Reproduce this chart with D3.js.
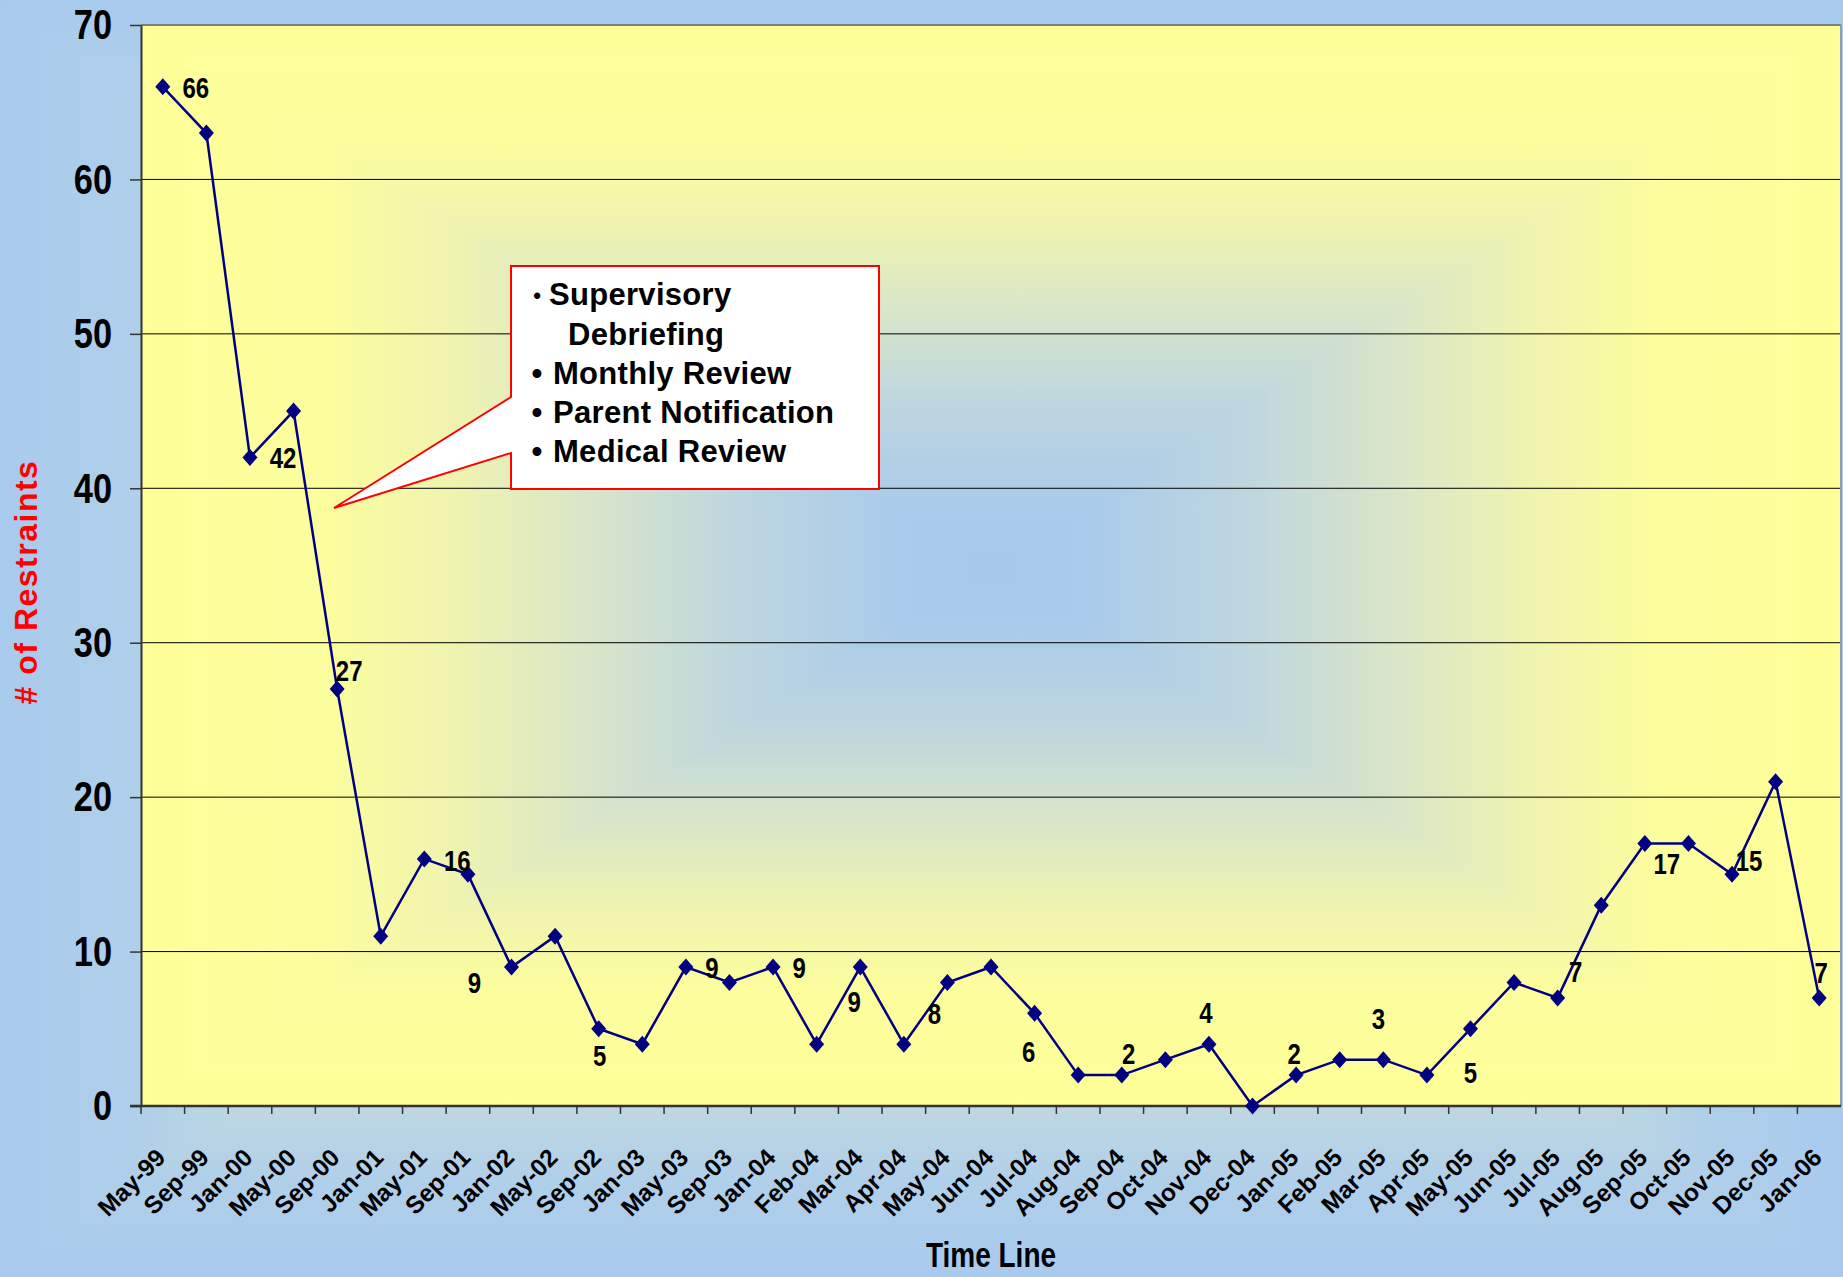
<!DOCTYPE html>
<html>
<head>
<meta charset="utf-8">
<script src="https://cdn.jsdelivr.net/npm/d3@7"></script>
<style>
body { margin: 0; background: #a8caee; overflow: hidden; }
</style>
</head>
<body>
<div id="chart"></div>
<script>
// data
var months = ["May-99", "Sep-99", "Jan-00", "May-00", "Sep-00", "Jan-01", "May-01", "Sep-01", "Jan-02", "May-02",
    "Sep-02", "Jan-03", "May-03", "Sep-03", "Jan-04", "Feb-04", "Mar-04", "Apr-04", "May-04", "Jun-04",
    "Jul-04", "Aug-04", "Sep-04", "Oct-04", "Nov-04", "Dec-04", "Jan-05", "Feb-05", "Mar-05", "Apr-05",
    "May-05", "Jun-05", "Jul-05", "Aug-05", "Sep-05", "Oct-05", "Nov-05", "Dec-05", "Jan-06"];
var restraints = [66, 63, 42, 45, 27, 11, 16, 15, 9, 11,
    5, 4, 9, 8, 9, 4, 9, 4, 8, 9,
    6, 2, 2, 3, 4, 0, 2, 3, 3, 2,
    5, 8, 7, 13, 17, 17, 15, 21, 7];
var yTicks = [0, 10, 20, 30, 40, 50, 60, 70];
var calloutLines = ["Supervisory", "Debriefing", "Monthly Review", "Parent Notification", "Medical Review"];

// points that carry a value label: [index, dx, dy] from the marker
var labelSpots = [[0, 33, 0], [2, 33, 0], [4, 12, -19], [6, 33, 1], [8, -37, 15], [10, 1, 26],
    [12, 26, 0], [14, 26, 0], [16, -6, 34], [18, -13, 31], [20, -6, 38], [22, 7, -22],
    [24, -3, -32], [26, -2, -22], [28, -5, -41], [30, 0, 43], [32, 18, -27], [34, 22, 20],
    [36, 17, -14], [38, 2, -26]];

const W = 1843, H = 1277;
const plotLeft = 141, plotRight = 1841, plotTop = 25, plotBottom = 1106;
const font = "'Liberation Sans', Arial, sans-serif";
const squeeze = 0.8; // no narrow face installed, so condense by hand

var svg = d3.select("#chart").append("svg")
    .attr("width", W)
    .attr("height", H);
var defs = svg.append("defs");

// rectangular "from center" fill: vertical gradient on the whole rect,
// left/right triangles carry the horizontal one
function rectGradient(id, x0, y0, x1, y1, stops) {
    var cx = (x0 + x1) / 2, cy = (y0 + y1) / 2;
    var v = defs.append("linearGradient").attr("id", id + "-v")
        .attr("x1", 0).attr("y1", 0).attr("x2", 0).attr("y2", 1);
    var vs = [];
    stops.forEach(s => { vs.push([0.5 - s[0] / 2, s[1]]); if (s[0] > 0) vs.push([0.5 + s[0] / 2, s[1]]); });
    vs.sort((a, b) => a[0] - b[0]);
    vs.forEach(s => v.append("stop").attr("offset", s[0]).attr("stop-color", s[1]));
    [["l", x0], ["r", x1]].forEach(side => {
        var h = defs.append("linearGradient").attr("id", id + "-" + side[0])
            .attr("gradientUnits", "userSpaceOnUse")
            .attr("x1", side[1]).attr("y1", cy).attr("x2", cx).attr("y2", cy);
        stops.slice().reverse().forEach(s => h.append("stop").attr("offset", 1 - s[0]).attr("stop-color", s[1]));
    });
    var g = svg.append("g");
    g.append("rect").attr("x", x0).attr("y", y0).attr("width", x1 - x0).attr("height", y1 - y0)
        .attr("fill", "url(#" + id + "-v)");
    g.append("path").attr("d", `M${x0},${y0}L${cx},${cy}L${x0},${y1}Z`).attr("fill", "url(#" + id + "-l)");
    g.append("path").attr("d", `M${x1},${y0}L${cx},${cy}L${x1},${y1}Z`).attr("fill", "url(#" + id + "-r)");
    return g;
}

rectGradient("outer", 0, 0, W, H, [
    [0, "#ffff99"], [0.55, "#e2ebc2"], [0.72, "#c0d8e0"], [0.85, "#b0cfe9"], [1, "#a8caee"]]);
rectGradient("inner", plotLeft, plotTop, plotRight, plotBottom, [
    [0, "#a6c8ee"], [0.12, "#aacbea"], [0.3, "#bed6de"], [0.48, "#dae6c8"], [0.63, "#eff3b0"],
    [0.78, "#fcfd9d"], [1, "#ffff99"]]);

var x = d3.scaleBand().domain(months).range([plotLeft, plotRight]);
var y = d3.scaleLinear().domain([0, 70]).range([plotBottom, plotTop]);
var cxOf = d => x(d) + x.bandwidth() / 2;

// gridlines
svg.append("g").selectAll("line")
    .data(yTicks.filter(t => t > 0))
    .join("line")
    .attr("x1", plotLeft).attr("x2", plotRight)
    .attr("y1", d => y(d)).attr("y2", d => y(d))
    .attr("stroke", d => d == 70 ? "#7f7f7f" : "#000")
    .attr("stroke-width", d => d == 70 ? 2 : 1);
svg.append("line")
    .attr("x1", plotRight).attr("x2", plotRight)
    .attr("y1", plotTop).attr("y2", plotBottom)
    .attr("stroke", "#8c9cb2").attr("stroke-width", 2);

// y axis
var yAxis = svg.append("g")
    .attr("transform", `translate(${plotLeft},0)`)
    .call(d3.axisLeft(y).tickValues(yTicks).tickSize(11).tickSizeOuter(0).tickPadding(18));
yAxis.select(".domain").attr("stroke", "#333").attr("stroke-width", 2);
yAxis.selectAll(".tick line").attr("stroke", "#333").attr("stroke-width", 1.5);
yAxis.selectAll("text")
    .attr("x", -29 / squeeze)
    .attr("transform", `scale(${squeeze},1)`)
    .attr("font-family", font)
    .attr("font-weight", "bold")
    .attr("font-size", 43)
    .attr("fill", "#000");

// x axis: ticks at band edges, slanted labels at band centres
var xAxis = svg.append("g");
xAxis.append("line")
    .attr("x1", plotLeft - 11).attr("x2", plotRight)
    .attr("y1", plotBottom).attr("y2", plotBottom)
    .attr("stroke", "#333").attr("stroke-width", 2.5);
xAxis.selectAll(".xtick")
    .data(months)
    .join("line")
    .attr("class", "xtick")
    .attr("x1", d => x(d)).attr("x2", d => x(d))
    .attr("y1", plotBottom).attr("y2", plotBottom + 8)
    .attr("stroke", "#333").attr("stroke-width", 1.5);
xAxis.selectAll(".xlabel")
    .data(months)
    .join("text")
    .attr("class", "xlabel")
    .attr("transform", d => `translate(${cxOf(d) - 2},${plotBottom + 47}) rotate(-45)`)
    .attr("text-anchor", "end")
    .attr("dy", "0.35em")
    .attr("font-family", font)
    .attr("font-weight", "bold")
    .attr("font-size", 24.5)
    .text(d => d);

// axis titles
svg.append("text")
    .attr("transform", `translate(991,1267) scale(${squeeze},1)`)
    .attr("text-anchor", "middle")
    .attr("font-family", font)
    .attr("font-weight", "bold")
    .attr("font-size", 35)
    .text("Time Line");
svg.append("text")
    .attr("transform", "translate(37,582) rotate(-90)")
    .attr("text-anchor", "middle")
    .attr("font-family", font)
    .attr("font-weight", "bold")
    .attr("font-size", 32)
    .attr("letter-spacing", 1.5)
    .attr("fill", "#ff0000")
    .text("# of Restraints");

// series
var line = d3.line()
    .x((d, i) => cxOf(months[i]))
    .y(d => y(d));
svg.append("path")
    .datum(restraints)
    .attr("d", line)
    .attr("fill", "none")
    .attr("stroke", "#000080")
    .attr("stroke-width", 2.5);

var diamond = d3.path();
diamond.moveTo(0, -8.5); diamond.lineTo(7.5, 0); diamond.lineTo(0, 8.5); diamond.lineTo(-7.5, 0); diamond.closePath();
svg.append("g").selectAll("path")
    .data(restraints)
    .join("path")
    .attr("d", diamond.toString())
    .attr("transform", (d, i) => `translate(${cxOf(months[i])},${y(d)})`)
    .attr("fill", "#000080");

svg.append("g").selectAll("text")
    .data(labelSpots)
    .join("text")
    .attr("transform", d => `translate(${cxOf(months[d[0]]) + d[1]},${y(restraints[d[0]]) + d[2]}) scale(${squeeze},1)`)
    .attr("dy", "0.36em")
    .attr("text-anchor", "middle")
    .attr("font-family", font)
    .attr("font-weight", "bold")
    .attr("font-size", 30)
    .text(d => restraints[d[0]]);

// callout
var callout = svg.append("g");
callout.append("path")
    .attr("d", "M511,266H879V489H511V453L334,508L511,397Z")
    .attr("fill", "#fff")
    .attr("stroke", "#ff0000")
    .attr("stroke-width", 2);
var calloutRows = [
    {text: calloutLines[0], x: 549, y: 305, bullet: 22},
    {text: calloutLines[1], x: 568, y: 345, bullet: 0},
    {text: calloutLines[2], x: 553, y: 384, bullet: 31},
    {text: calloutLines[3], x: 553, y: 423, bullet: 31},
    {text: calloutLines[4], x: 553, y: 462, bullet: 31}];
calloutRows.forEach(r => {
    if (r.bullet) {
        callout.append("text")
            .attr("x", 537).attr("y", r.y - (r.bullet < 30 ? 2 : 0))
            .attr("text-anchor", "middle")
            .attr("font-family", font)
            .attr("font-weight", "bold")
            .attr("font-size", r.bullet)
            .text("\u2022");
    }
    callout.append("text")
        .attr("x", r.x).attr("y", r.y)
        .attr("font-family", font)
        .attr("font-weight", "bold")
        .attr("font-size", 31)
        .attr("letter-spacing", 0.3)
        .text(r.text);
});
</script>
</body>
</html>
